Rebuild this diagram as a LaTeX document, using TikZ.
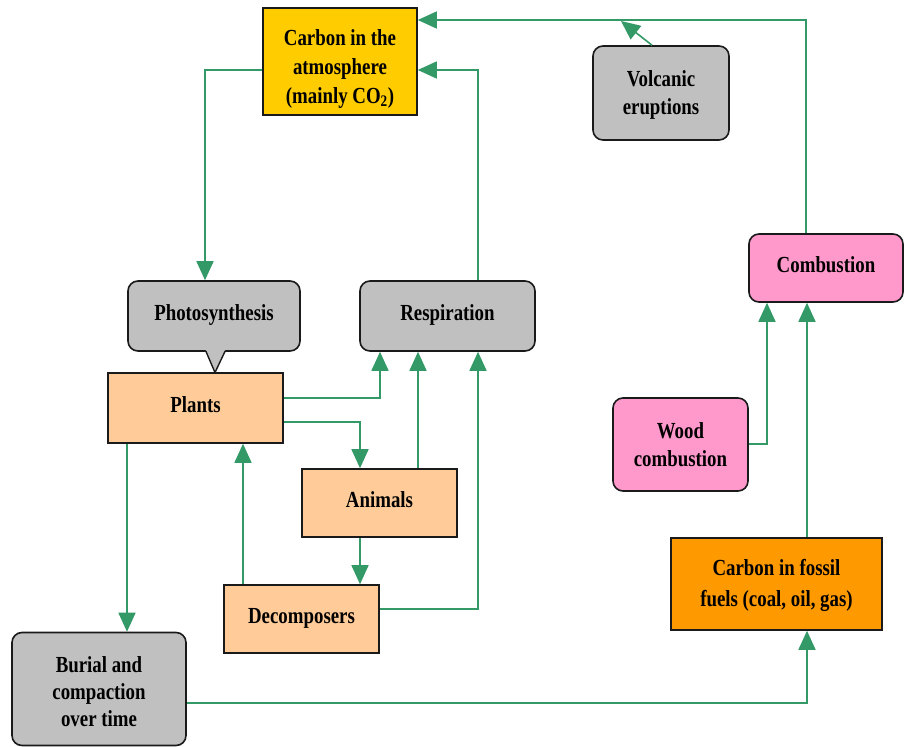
\documentclass[tikz,border=0pt]{standalone}
\usepackage{fontspec}
\setmainfont{Liberation Serif}[FakeStretch=0.82]
\usetikzlibrary{arrows.meta}
\definecolor{flowgreen}{HTML}{339966}
\definecolor{boxgray}{HTML}{C0C0C0}
\definecolor{atmyellow}{HTML}{FFCC00}
\definecolor{peach}{HTML}{FFCC99}
\definecolor{pinkbox}{HTML}{FF99CC}
\definecolor{fossilorange}{HTML}{FF9900}
\definecolor{bordercol}{HTML}{1A1A1A}
\newcommand{\topstrut}[1]{\rule{0pt}{#1}}
\begin{document}
\begin{tikzpicture}[x=1pt,y=-1pt,
  basebox/.style={draw=bordercol, line width=1.6pt, inner sep=0pt, align=center,
    font=\fontsize{23}{29}\selectfont\bfseries},
  sqbox/.style={basebox},
  rbox/.style={basebox, rounded corners=10pt},
  oneline/.style={text height=16pt, text depth=7pt},
  flow/.style={draw=flowgreen, line width=1.6pt, -{Triangle[length=19pt,width=17pt]}}]
\useasboundingbox (0,0) rectangle (911,747);
\fill[white] (0,0) rectangle (911,747);

% nodes
\node[sqbox, fill=atmyellow, minimum width=154pt, minimum height=107pt] (atm) at (340,61.5)
  {\topstrut{30pt}Carbon in the\\atmosphere\\(mainly CO\textsubscript{2})};
\node[rbox, fill=boxgray, minimum width=136pt, minimum height=94pt,
  font=\fontsize{23}{28}\selectfont\bfseries] (volc) at (661,93) {\topstrut{20pt}Volcanic\\eruptions};
\node[rbox, oneline, fill=boxgray, minimum width=172pt, minimum height=70pt] (photo) at (214,316) {Photosynthesis};
\node[rbox, oneline, fill=boxgray, minimum width=175pt, minimum height=70pt] (resp) at (447.5,316) {Respiration};
\node[sqbox, oneline, fill=peach, minimum width=175pt, minimum height=70pt] (plants) at (195.5,408) {Plants};
\node[sqbox, oneline, fill=peach, minimum width=155pt, minimum height=68pt] (animals) at (379.5,503) {Animals};
\node[sqbox, oneline, fill=peach, minimum width=155pt, minimum height=68pt] (decomp) at (301.5,619) {Decomposers};
\node[rbox, fill=boxgray, minimum width=174pt, minimum height=113pt,
  font=\fontsize{23}{27}\selectfont\bfseries] (burial) at (99,689) {\topstrut{22pt}Burial and\\compaction\\over time};
\node[rbox, oneline, fill=pinkbox, minimum width=154pt, minimum height=68pt] (comb) at (826,268) {Combustion};
\node[rbox, fill=pinkbox, minimum width=135pt, minimum height=93pt,
  font=\fontsize{23}{28}\selectfont\bfseries] (wood) at (680.5,444.5) {Wood\\combustion};
\node[sqbox, fill=fossilorange, minimum width=211pt, minimum height=92pt,
  font=\fontsize{23}{31}\selectfont\bfseries] (fossil) at (776.5,584) {\topstrut{20pt}Carbon in fossil\\fuels (coal, oil, gas)};

% callout pointer of Photosynthesis
\fill[boxgray] (205.5,349.5) -- (215,372.5) -- (225.5,349.5) -- cycle;
\draw[bordercol, line width=1.4pt, line join=round] (205.8,351) -- (215,372.5) -- (225.2,351);

% connectors
\coordinate (vtip) at (621,21);
\draw[flow] (atm.west |- 0,70) -| (205,0 |- photo.north);
\draw[flow] (478,0 |- resp.north) |- (atm.east |- 0,70);
\draw[flow] (806,0 |- comb.north) |- (atm.east |- 0,20);
\draw[flow] (652,0 |- volc.north) -- (vtip);
\draw[flow] (plants.east |- 0,398) -| (380,0 |- resp.south);
\draw[flow] (plants.east |- 0,422) -| (360,0 |- animals.north);
\draw[flow] (418,0 |- animals.north) -- (418,0 |- resp.south);
\draw[flow] (decomp.east |- 0,609) -| (478,0 |- resp.south);
\draw[flow] (243,0 |- decomp.north) -- (243,0 |- plants.south);
\draw[flow] (360,0 |- animals.south) -- (360,0 |- decomp.north);
\draw[flow] (127,0 |- plants.south) -- (127,0 |- burial.north);
\draw[flow] (burial.east |- 0,703) -| (807,0 |- fossil.south);
\draw[flow] (807,0 |- fossil.north) -- (807,0 |- comb.south);
\draw[flow] (wood.east |- 0,444) -| (767,0 |- comb.south);
\end{tikzpicture}
\end{document}
